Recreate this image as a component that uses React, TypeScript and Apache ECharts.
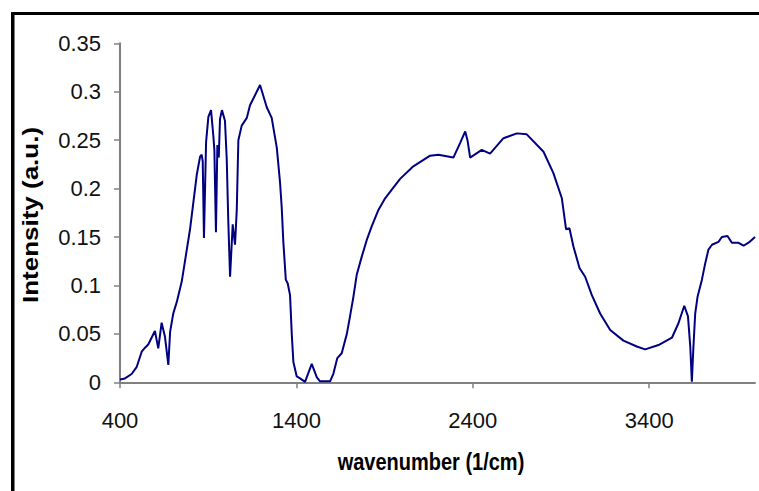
import React, { useEffect, useRef } from "react";
import * as echarts from "echarts";

const wavenumbers = [
  400, 428, 466, 495, 523, 542, 560, 598, 617, 636, 655, 674, 684, 702, 722, 750,
  797, 835, 854, 863, 869, 876, 888, 901, 916, 929, 935, 944, 952, 960, 967, 978,
  995, 1005, 1014, 1024, 1039, 1052, 1062, 1071, 1090, 1119, 1137, 1194, 1232, 1260,
  1289, 1307, 1317, 1326, 1340, 1351, 1364, 1374, 1383, 1402, 1421, 1449, 1487, 1516,
  1534, 1591, 1610, 1632, 1657, 1686, 1704, 1723, 1742, 1771, 1799, 1827, 1865, 1903,
  1941, 1988, 2063, 2158, 2205, 2290, 2328, 2357, 2370, 2385, 2451, 2498, 2574, 2650,
  2706, 2801, 2857, 2905, 2929, 2948, 2971, 3005, 3037, 3075, 3122, 3179, 3254, 3330,
  3377, 3453, 3529, 3566, 3599, 3620, 3633, 3642, 3651, 3661, 3674, 3699, 3718, 3736,
  3756, 3793, 3812, 3844, 3869, 3907, 3935, 3970, 4000,
];

const intensity = [
  0.003, 0.004, 0.0086, 0.016, 0.0316, 0.0357, 0.039, 0.053, 0.035, 0.0615, 0.047, 0.018, 0.052, 0.071, 0.083, 0.104,
  0.158, 0.214, 0.233, 0.235, 0.228, 0.149, 0.248, 0.274, 0.281, 0.255, 0.24, 0.155, 0.245, 0.232, 0.272, 0.281,
  0.27, 0.231, 0.166, 0.109, 0.163, 0.142, 0.178, 0.25, 0.265, 0.273, 0.286, 0.307, 0.284, 0.273,
  0.242, 0.207, 0.18, 0.145, 0.106, 0.102, 0.09, 0.049, 0.021, 0.006, 0.004, 0.0005, 0.019, 0.005,
  0.001, 0.001, 0.009, 0.025, 0.03, 0.05, 0.068, 0.088, 0.111, 0.13, 0.147, 0.161, 0.178, 0.19,
  0.199, 0.21, 0.223, 0.234, 0.235, 0.232, 0.247, 0.259, 0.25, 0.232, 0.24, 0.236, 0.252, 0.257,
  0.256, 0.238, 0.216, 0.19, 0.158, 0.159, 0.14, 0.118, 0.109, 0.09, 0.071, 0.054, 0.043, 0.037,
  0.034, 0.0385, 0.046, 0.061, 0.079, 0.068, 0.037, 0.0006, 0.037, 0.071, 0.088, 0.106, 0.123, 0.137,
  0.142, 0.145, 0.15, 0.151, 0.144, 0.144, 0.141, 0.145, 0.15,
];

const xTicks = [400, 1400, 2400, 3400];
const xTitle = "wavenumber (1/cm)";
const yTitle = "Intensity (a.u.)";

export default function App() {
  const ref = useRef<HTMLDivElement>(null);
  useEffect(() => {
    if (!ref.current) return;
    const chart = echarts.init(ref.current, null, { renderer: "svg" });
    const data = wavenumbers.map((w, i) => [w, intensity[i]]);
    chart.setOption({
      animation: false,
      backgroundColor: "#ffffff",
      grid: { left: 120, right: 4, top: 43.3, bottom: 108.7 },
      xAxis: {
        type: "value",
        min: 400,
        max: 4000,
        interval: 1000,
        splitLine: { show: false },
        axisLine: { lineStyle: { color: "#808080", width: 2 } },
        axisTick: { customValues: xTicks, length: 6, lineStyle: { color: "#808080", width: 1.5 } },
        axisLabel: {
          customValues: xTicks,
          formatter: (v: number) => String(v),
          margin: 27,
          color: "#111",
          fontFamily: "Liberation Sans, Arial, sans-serif",
          fontSize: 22,
        },
      },
      yAxis: {
        type: "value",
        min: 0,
        max: 0.35,
        interval: 0.05,
        splitLine: { show: false },
        axisLine: { show: true, lineStyle: { color: "#808080", width: 2 } },
        axisTick: { show: true, length: 6, lineStyle: { color: "#808080", width: 1.5 } },
        axisLabel: {
          margin: 19,
          color: "#111",
          fontFamily: "Liberation Sans, Arial, sans-serif",
          fontSize: 22,
        },
      },
      graphic: [
        { type: "rect", shape: { x: 11, y: 12, width: 760, height: 3 }, style: { fill: "#000" } },
        { type: "rect", shape: { x: 11, y: 12, width: 3.5, height: 490 }, style: { fill: "#000" } },
        {
          type: "text",
          x: 431,
          y: 462,
          scaleY: 1.18,
          style: {
            text: xTitle,
            fontFamily: "Liberation Sans, Arial, sans-serif",
            fontWeight: "bold",
            fontSize: 20,
            fill: "#000",
            textAlign: "center",
            textVerticalAlign: "middle",
          },
        },
        {
          type: "text",
          x: 30,
          y: 215,
          rotation: Math.PI / 2,
          scaleY: 0.88,
          style: {
            text: yTitle,
            fontFamily: "Liberation Sans, Arial, sans-serif",
            fontWeight: "bold",
            fontSize: 26,
            fill: "#000",
            textAlign: "center",
            textVerticalAlign: "middle",
          },
        },
      ],
      series: [
        {
          type: "line",
          data,
          showSymbol: false,
          lineStyle: { color: "#000080", width: 2 },
          itemStyle: { color: "#000080" },
        },
      ],
    });
    return () => chart.dispose();
  }, []);
  return (
    <div
      ref={ref}
      style={{ position: "absolute", left: 0, top: 0, width: 759, height: 491 }}
    />
  );
}
